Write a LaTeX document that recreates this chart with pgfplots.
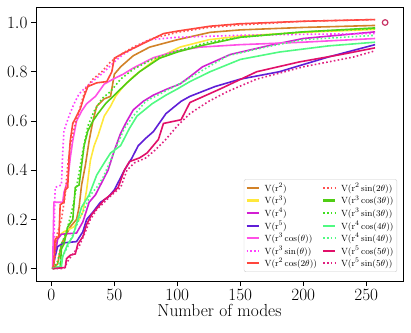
\documentclass[border=0pt]{standalone}
\usepackage{pgfplots}
\pgfplotsset{compat=1.18}
\definecolor{cRtwo}{RGB}{210,130,40}
\definecolor{cRthree}{RGB}{255,232,60}
\definecolor{cRfour}{RGB}{210,30,210}
\definecolor{cRfive}{RGB}{95,30,215}
\definecolor{cCosOne}{RGB}{255,80,230}
\definecolor{cSinOne}{RGB}{255,64,255}
\definecolor{cCosTwo}{RGB}{255,70,60}
\definecolor{cSinTwo}{RGB}{255,80,80}
\definecolor{cCosThree}{RGB}{80,205,20}
\definecolor{cSinThree}{RGB}{64,224,32}
\definecolor{cCosFour}{RGB}{80,250,130}
\definecolor{cSinFour}{RGB}{80,250,130}
\definecolor{cCosFive}{RGB}{225,15,105}
\definecolor{cSinFive}{RGB}{224,32,128}
\definecolor{cMark}{RGB}{200,50,100}
\pgfplotsset{
  dotline/.style={dash pattern=on 1.6bp off 2.3bp},
  sRtwo/.style={cRtwo},
  sRthree/.style={cRthree},
  sRfour/.style={cRfour},
  sRfive/.style={cRfive},
  sCosOne/.style={cCosOne},
  sSinOne/.style={cSinOne,dotline},
  sCosTwo/.style={cCosTwo},
  sSinTwo/.style={cSinTwo,dotline},
  sCosThree/.style={cCosThree},
  sSinThree/.style={cSinThree,dotline},
  sCosFour/.style={cCosFour},
  sSinFour/.style={cSinFour,dotline},
  sCosFive/.style={cCosFive},
  sSinFive/.style={cSinFive,dotline},
}
\begin{document}
\begin{tikzpicture}
\begin{axis}[
scale only axis,width=367bp,height=274bp,
xmin=-12.2,xmax=279.2,ymin=-0.05,ymax=1.063,
xtick={0,50,100,150,200,250},
ytick={0,0.2,0.4,0.6,0.8,1.0},
yticklabel style={/pgf/number format/.cd,fixed,fixed zerofill,precision=1},
tick align=outside,tick pos=left,
major tick length=5bp,
tick style={black,line width=0.8pt},
axis line style={line width=0.9pt},
tick label style={font=\fontsize{17.5}{20}\selectfont},
label style={font=\fontsize{17.5}{20}\selectfont},
xlabel={Number of modes},
xlabel style={yshift=3bp},
every axis plot/.append style={line width=1.6bp},
legend columns=2,
legend cell align=left,
legend image code/.code={\draw[#1,line width=2.1bp] (0bp,0bp) -- (12bp,0bp);},
legend style={at={(0.984,0.033)},anchor=south east,
  font=\fontsize{9.5}{10}\selectfont,draw=black!20,rounded corners=2pt,
  inner sep=1.5bp,row sep=-1.2bp,column sep=3bp},
]
% V(r^2)
\addplot[sRtwo,forget plot] coordinates {(1,0)(5,0.02)(8,0.1)(15,0.17)(20,0.2)(22,0.25)(24,0.34)(27,0.42)(30,0.52)(33,0.6)(36,0.66)(42,0.69)(47,0.7)(50,0.79)(55,0.82)(65,0.865)(78,0.9)(100,0.93)(126,0.96)(150,0.97)(200,0.98)(257,0.988)};
% V(r^3)
\addplot[sRthree,forget plot] coordinates {(1,0)(3,0.08)(5,0.13)(10,0.15)(18,0.17)(22,0.2)(25,0.23)(28,0.32)(31,0.44)(34,0.5)(37,0.54)(42,0.62)(47,0.66)(51,0.7)(57,0.74)(65,0.78)(75,0.82)(84,0.855)(102,0.9)(125,0.93)(150,0.945)(200,0.96)(257,0.972)};
% V(r^4)
\addplot[sRfour,forget plot] coordinates {(1,0)(3,0.06)(5,0.12)(8,0.14)(20,0.145)(25,0.19)(30,0.27)(35,0.3)(40,0.35)(45,0.4)(50,0.48)(55,0.55)(60,0.6)(65,0.645)(73,0.68)(81,0.705)(92,0.73)(102,0.75)(110,0.78)(120,0.82)(142,0.87)(176,0.91)(200,0.935)(257,0.962)};
% V(r^5)
\addplot[sRfive,forget plot] coordinates {(1,0)(3,0.05)(5,0.09)(10,0.105)(20,0.11)(25,0.15)(28,0.2)(33,0.23)(39,0.27)(45,0.29)(50,0.32)(58,0.4)(64,0.45)(69,0.5)(75,0.53)(81,0.557)(91,0.63)(103,0.68)(110,0.7)(130,0.74)(150,0.77)(181,0.8)(220,0.86)(257,0.91)};
% V(r^3 cos theta)
\addplot[sCosOne,forget plot] coordinates {(1,0)(2,0.27)(9,0.27)(10,0.31)(13,0.36)(15,0.45)(17,0.52)(20,0.6)(24,0.64)(28,0.67)(35,0.7)(42,0.75)(49,0.77)(57,0.79)(65,0.815)(81,0.857)(100,0.885)(118,0.9)(150,0.91)(200,0.92)(257,0.935)};
% V(r^3 sin theta)
\addplot[sSinOne,forget plot] coordinates {(1,0)(2,0.1)(3,0.33)(8,0.34)(9,0.47)(10,0.56)(14,0.62)(18,0.67)(22,0.71)(28,0.74)(35,0.77)(42,0.8)(50,0.84)(57,0.87)(65,0.895)(78,0.93)(100,0.94)(150,0.948)(200,0.952)(257,0.955)};
% V(r^2 cos 2theta)
\addplot[sCosTwo,forget plot] coordinates {(1,0)(2,0.02)(3,0.12)(6,0.13)(7,0.26)(10,0.27)(11,0.32)(13,0.33)(14,0.45)(15,0.52)(17,0.59)(20,0.62)(23,0.65)(26,0.7)(29,0.74)(36,0.755)(44,0.76)(48,0.8)(50,0.855)(57,0.875)(65,0.895)(75,0.92)(89,0.955)(100,0.965)(126,0.985)(150,0.995)(200,1.005)(257,1.012)};
% V(r^2 sin 2theta)
\addplot[sSinTwo,forget plot] coordinates {(1,0)(3,0.05)(4,0.13)(8,0.2)(11,0.3)(13,0.42)(15,0.5)(18,0.57)(22,0.64)(27,0.73)(33,0.77)(40,0.8)(47,0.84)(55,0.87)(65,0.9)(80,0.935)(100,0.96)(125,0.98)(150,0.99)(200,1.005)(257,1.012)};
% V(r^3 cos 3theta)
\addplot[sCosThree,forget plot] coordinates {(1,0)(7,0.005)(8,0.08)(10,0.1)(13,0.17)(17,0.2)(19,0.33)(22,0.34)(24,0.42)(26,0.5)(29,0.56)(33,0.6)(37,0.63)(43,0.67)(49,0.7)(55,0.73)(60,0.755)(70,0.8)(86,0.855)(100,0.88)(118,0.905)(150,0.94)(200,0.962)(257,0.978)};
% V(r^3 sin 3theta)
\addplot[sSinThree,forget plot] coordinates {(1,0)(5,0.03)(8,0.1)(12,0.15)(17,0.25)(21,0.36)(25,0.48)(29,0.58)(34,0.64)(40,0.69)(47,0.72)(55,0.77)(65,0.81)(80,0.85)(100,0.885)(125,0.92)(150,0.94)(200,0.962)(257,0.975)};
% V(r^4 cos 4theta)
\addplot[sCosFour,forget plot] coordinates {(1,0)(8,0.01)(9,0.05)(13,0.1)(17,0.13)(21,0.2)(24,0.25)(30,0.3)(36,0.38)(42,0.43)(47,0.47)(55,0.5)(62,0.57)(68,0.62)(80,0.67)(91,0.705)(100,0.73)(110,0.76)(126,0.8)(150,0.85)(181,0.88)(220,0.905)(257,0.92)};
% V(r^4 sin 4theta)
\addplot[sSinFour,forget plot] coordinates {(1,0)(5,0.01)(10,0.06)(14,0.1)(18,0.15)(22,0.2)(26,0.24)(31,0.3)(36,0.33)(41,0.37)(47,0.44)(52,0.5)(58,0.57)(65,0.62)(75,0.68)(90,0.72)(105,0.76)(118,0.8)(140,0.865)(170,0.9)(200,0.93)(257,0.948)};
% V(r^5 cos 5theta)
\addplot[sCosFive,forget plot] coordinates {(1,0)(11,0.005)(12,0.04)(15,0.055)(19,0.06)(21,0.1)(25,0.13)(28,0.18)(32,0.22)(37,0.25)(42,0.28)(47,0.3)(53,0.33)(58,0.4)(62,0.435)(70,0.45)(76,0.47)(85,0.525)(89,0.59)(103,0.605)(110,0.675)(134,0.73)(163,0.8)(197,0.84)(230,0.87)(257,0.897)};
% V(r^5 sin 5theta)
\addplot[sSinFive,forget plot] coordinates {(1,0)(10,0)(13,0.03)(17,0.06)(22,0.09)(27,0.15)(31,0.2)(36,0.24)(42,0.27)(48,0.3)(55,0.33)(60,0.4)(66,0.43)(75,0.45)(82,0.48)(90,0.52)(100,0.58)(110,0.63)(125,0.68)(140,0.72)(163,0.77)(200,0.82)(240,0.86)(257,0.885)};
% marker
\addplot[only marks,mark=o,mark size=2.8bp,draw=cMark,line width=1.2bp,forget plot] coordinates {(265,1.0)};
% legend, row by row (two columns)
\addlegendimage{sRtwo}\addlegendentry{$\mathrm{V}(\mathrm{r}^{2})$}
\addlegendimage{sSinTwo}\addlegendentry{$\mathrm{V}(\mathrm{r}^{2}\sin(2\theta))$}
\addlegendimage{sRthree}\addlegendentry{$\mathrm{V}(\mathrm{r}^{3})$}
\addlegendimage{sCosThree}\addlegendentry{$\mathrm{V}(\mathrm{r}^{3}\cos(3\theta))$}
\addlegendimage{sRfour}\addlegendentry{$\mathrm{V}(\mathrm{r}^{4})$}
\addlegendimage{sSinThree}\addlegendentry{$\mathrm{V}(\mathrm{r}^{3}\sin(3\theta))$}
\addlegendimage{sRfive}\addlegendentry{$\mathrm{V}(\mathrm{r}^{5})$}
\addlegendimage{sCosFour}\addlegendentry{$\mathrm{V}(\mathrm{r}^{4}\cos(4\theta))$}
\addlegendimage{sCosOne}\addlegendentry{$\mathrm{V}(\mathrm{r}^{3}\cos(\theta))$}
\addlegendimage{sSinFour}\addlegendentry{$\mathrm{V}(\mathrm{r}^{4}\sin(4\theta))$}
\addlegendimage{sSinOne}\addlegendentry{$\mathrm{V}(\mathrm{r}^{3}\sin(\theta))$}
\addlegendimage{sCosFive}\addlegendentry{$\mathrm{V}(\mathrm{r}^{5}\cos(5\theta))$}
\addlegendimage{sCosTwo}\addlegendentry{$\mathrm{V}(\mathrm{r}^{2}\cos(2\theta))$}
\addlegendimage{sSinFive}\addlegendentry{$\mathrm{V}(\mathrm{r}^{5}\sin(5\theta))$}
\end{axis}
\path (current axis.south west)++(-36bp,-52bp) (current axis.north east)++(8bp,7bp);
\end{tikzpicture}
\end{document}
